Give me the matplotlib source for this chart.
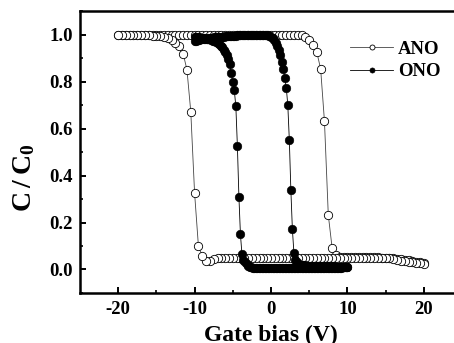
import matplotlib

matplotlib.use("Agg")
import matplotlib.pyplot as plt

# gate bias sweep grids (V)
ano_bias = [
    -20.0, -19.5, -19.0, -18.5, -18.0, -17.5, -17.0, -16.5, -16.0, -15.5,
    -15.0, -14.5, -14.0, -13.5, -13.0, -12.5, -12.0, -11.5, -11.0, -10.5,
    -10.0, -9.5, -9.0, -8.5, -8.0, -7.5, -7.0, -6.5, -6.0, -5.5,
    -5.0, -4.5, -4.0, -3.5, -3.0, -2.5, -2.0, -1.5, -1.0, -0.5,
    0.0, 0.5, 1.0, 1.5, 2.0, 2.5, 3.0, 3.5, 4.0, 4.5,
    5.0, 5.5, 6.0, 6.5, 7.0, 7.5, 8.0, 8.5, 9.0, 9.5,
    10.0, 10.5, 11.0, 11.5, 12.0, 12.5, 13.0, 13.5, 14.0, 14.5,
    15.0, 15.5, 16.0, 16.5, 17.0, 17.5, 18.0, 18.5, 19.0, 19.5,
    20.0,
]
ono_bias = [
    -10.0, -9.8, -9.6, -9.4, -9.2, -9.0, -8.8, -8.6, -8.4, -8.2,
    -8.0, -7.8, -7.6, -7.4, -7.2, -7.0, -6.8, -6.6, -6.4, -6.2,
    -6.0, -5.8, -5.6, -5.4, -5.2, -5.0, -4.8, -4.6, -4.4, -4.2,
    -4.0, -3.8, -3.6, -3.4, -3.2, -3.0, -2.8, -2.6, -2.4, -2.2,
    -2.0, -1.8, -1.6, -1.4, -1.2, -1.0, -0.8, -0.6, -0.4, -0.2,
    0.0, 0.2, 0.4, 0.6, 0.8, 1.0, 1.2, 1.4, 1.6, 1.8,
    2.0, 2.2, 2.4, 2.6, 2.8, 3.0, 3.2, 3.4, 3.6, 3.8,
    4.0, 4.2, 4.4, 4.6, 4.8, 5.0, 5.2, 5.4, 5.6, 5.8,
    6.0, 6.2, 6.4, 6.6, 6.8, 7.0, 7.2, 7.4, 7.6, 7.8,
    8.0, 8.2, 8.4, 8.6, 8.8, 9.0, 9.2, 9.4, 9.6, 9.8,
    10.0,
]

# C/C0, ANO: forward sweep -20 -> 20, then reverse 20 -> -20
ano_forward = [
    1.000, 1.000, 1.000, 1.000, 1.000, 1.000, 1.000, 1.000, 1.000, 1.000,
    1.000, 1.000, 1.000, 1.000, 1.000, 1.000, 1.000, 1.000, 1.000, 1.000,
    1.000, 1.000, 1.000, 1.000, 1.000, 1.000, 1.000, 1.000, 1.000, 1.000,
    1.000, 1.000, 1.000, 1.000, 1.000, 1.000, 1.000, 1.000, 1.000, 1.000,
    1.000, 1.000, 1.000, 1.000, 0.999, 0.999, 0.999, 0.998, 0.996, 0.990,
    0.978, 0.955, 0.925, 0.853, 0.630, 0.232, 0.092, 0.062, 0.055, 0.053,
    0.052, 0.052, 0.052, 0.052, 0.052, 0.052, 0.052, 0.052, 0.052, 0.051,
    0.051, 0.050, 0.048, 0.046, 0.044, 0.042, 0.040, 0.037, 0.034, 0.031,
    0.028,
]
ano_reverse = [
    0.025, 0.026, 0.028, 0.030, 0.032, 0.035, 0.038, 0.041, 0.044, 0.047,
    0.049, 0.050, 0.050, 0.050, 0.050, 0.050, 0.050, 0.050, 0.050, 0.050,
    0.050, 0.050, 0.050, 0.050, 0.050, 0.050, 0.050, 0.050, 0.050, 0.050,
    0.050, 0.050, 0.050, 0.050, 0.050, 0.050, 0.050, 0.050, 0.050, 0.050,
    0.050, 0.050, 0.050, 0.050, 0.050, 0.050, 0.050, 0.050, 0.050, 0.050,
    0.050, 0.050, 0.050, 0.050, 0.048, 0.043, 0.036, 0.038, 0.057, 0.100,
    0.325, 0.672, 0.850, 0.919, 0.952, 0.966, 0.977, 0.984, 0.989, 0.992,
    0.994, 0.995, 0.996, 0.997, 0.997, 0.998, 0.998, 0.998, 0.999, 0.999,
    0.999,
]

# C/C0, ONO: forward sweep -10 -> 10, then reverse 10 -> -10
ono_forward = [
    0.972, 0.974, 0.976, 0.977, 0.979, 0.980, 0.981, 0.982, 0.983, 0.984,
    0.985, 0.986, 0.987, 0.988, 0.988, 0.989, 0.990, 0.990, 0.991, 0.991,
    0.992, 0.992, 0.993, 0.993, 0.994, 0.994, 0.995, 0.995, 0.996, 0.996,
    0.996, 0.997, 0.997, 0.997, 0.998, 0.998, 0.998, 0.998, 0.999, 0.999,
    0.999, 0.999, 1.000, 1.000, 1.000, 1.000, 0.999, 0.998, 0.996, 0.994,
    0.990, 0.985, 0.977, 0.966, 0.952, 0.935, 0.913, 0.885, 0.855, 0.816,
    0.774, 0.700, 0.551, 0.338, 0.171, 0.071, 0.042, 0.030, 0.024, 0.021,
    0.019, 0.018, 0.018, 0.017, 0.017, 0.017, 0.016, 0.016, 0.016, 0.016,
    0.015, 0.015, 0.015, 0.015, 0.014, 0.014, 0.014, 0.014, 0.013, 0.013,
    0.013, 0.013, 0.012, 0.012, 0.012, 0.012, 0.011, 0.011, 0.011, 0.010,
    0.010,
]
ono_reverse = [
    0.010, 0.009, 0.009, 0.009, 0.008, 0.008, 0.008, 0.008, 0.007, 0.007,
    0.007, 0.007, 0.007, 0.006, 0.006, 0.006, 0.006, 0.006, 0.006, 0.006,
    0.006, 0.006, 0.006, 0.006, 0.006, 0.005, 0.005, 0.005, 0.005, 0.005,
    0.005, 0.005, 0.005, 0.005, 0.005, 0.005, 0.005, 0.005, 0.005, 0.005,
    0.005, 0.005, 0.005, 0.005, 0.005, 0.005, 0.005, 0.005, 0.005, 0.005,
    0.005, 0.005, 0.005, 0.005, 0.005, 0.005, 0.005, 0.005, 0.005, 0.005,
    0.005, 0.006, 0.007, 0.009, 0.012, 0.016, 0.022, 0.030, 0.042, 0.064,
    0.150, 0.310, 0.527, 0.694, 0.762, 0.797, 0.836, 0.876, 0.897, 0.913,
    0.926, 0.936, 0.945, 0.952, 0.958, 0.963, 0.967, 0.971, 0.974, 0.977,
    0.979, 0.981, 0.983, 0.984, 0.985, 0.986, 0.987, 0.988, 0.989, 0.989,
    0.990,
]

x_ticks = [-20, -10, 0, 10, 20]
y_ticks = [0.0, 0.2, 0.4, 0.6, 0.8, 1.0]

plt.rcParams["font.family"] = ["Liberation Serif", "DejaVu Serif"]
plt.rcParams["font.weight"] = "bold"
plt.rcParams["axes.unicode_minus"] = False
plt.rcParams["mathtext.fontset"] = "custom"
plt.rcParams["mathtext.bf"] = "Liberation Serif:bold"
plt.rcParams["mathtext.rm"] = "Liberation Serif:bold"

fig = plt.figure(figsize=(4.54, 3.43), dpi=100)
ax = fig.add_axes([0.1762, 0.1458, 0.8414, 0.822])

ano_x = ano_bias + ano_bias[::-1]
ano_y = ano_forward + ano_reverse
ono_x = ono_bias + ono_bias[::-1]
ono_y = ono_forward + ono_reverse

ax.plot(ano_x, ano_y, "-o", color="#444444", linewidth=0.6, markersize=6.0,
        markerfacecolor="white", markeredgecolor="black", markeredgewidth=0.6,
        label="ANO")
ax.plot(ono_x, ono_y, "-o", color="black", linewidth=0.6, markersize=6.2,
        markerfacecolor="black", markeredgecolor="black", markeredgewidth=0.4,
        label="ONO")

ax.set_xlim(-25, 25)
ax.set_ylim(-0.1, 1.1)
ax.set_xticks(x_ticks)
ax.set_xticks([-15, -5, 5, 15], minor=True)
ax.set_yticks(y_ticks)
ax.set_yticks([-0.1, 0.1, 0.3, 0.5, 0.7, 0.9, 1.1], minor=True)
ax.set_yticklabels([f"{v:.1f}" for v in y_ticks])

for side in ["left", "bottom", "top", "right"]:
    ax.spines[side].set_linewidth(1.8)
ax.tick_params(which="major", direction="in", length=4, width=1.4, labelsize=13.5, pad=5)
ax.tick_params(which="minor", direction="in", length=2.2, width=1.2)
ax.tick_params(axis="x", which="major", pad=6)

ax.set_xlabel("Gate bias (V)", fontsize=17, fontweight="bold", labelpad=4.5)
ax.set_ylabel(r"$\mathbf{C\,/\,C_0}$", fontsize=20)
ax.yaxis.set_label_coords(-0.113, 0.41)

ax.legend(loc="upper left", bbox_to_anchor=(0.707, 0.895), frameon=False,
          fontsize=13.5, markerscale=0.6, handlelength=2.3, handletextpad=0.25,
          labelspacing=0.28, borderpad=0, borderaxespad=0)

fig.savefig("out.png", dpi=100)
